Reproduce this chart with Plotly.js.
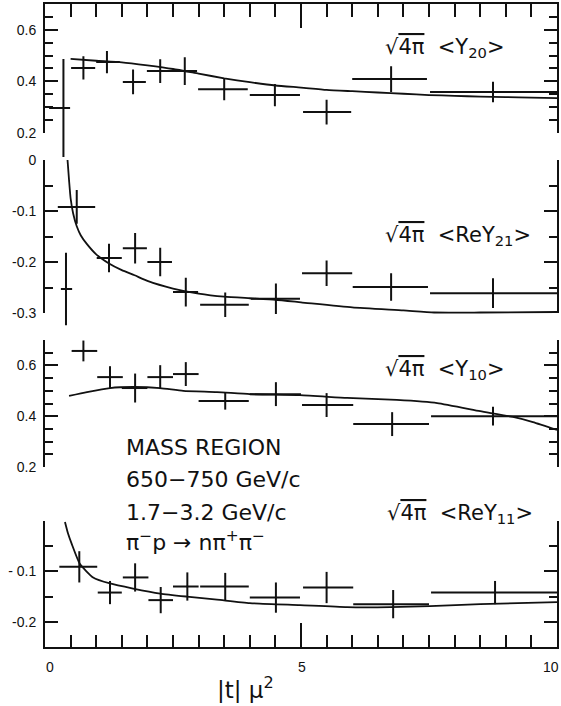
<!DOCTYPE html>
<html>
<head>
<meta charset="utf-8">
<script src="https://cdn.plot.ly/plotly-3.0.1.min.js"></script>
<style>html,body{margin:0;padding:0;background:#fff;}#chart{width:561px;height:706px;}</style>
</head>
<body>
<div id="chart"></div>
<script>
// Panel 1: sqrt(4pi) <Y20>
const y20X   = [0.36, 0.75, 1.21, 1.72, 2.25, 2.73, 3.50, 4.49, 5.50, 6.76, 8.75];
const y20Lo  = [0.08, 0.51, 1.00, 1.52, 1.99, 2.50, 2.99, 4.00, 5.04, 6.00, 7.52];
const y20Hi  = [0.49, 0.98, 1.46, 1.97, 2.50, 2.97, 3.96, 4.98, 5.98, 7.46, 10.0];
const y20Val = [0.297, 0.452, 0.475, 0.398, 0.440, 0.440, 0.370, 0.347, 0.281, 0.409, 0.359];
const y20Err = [0.19, 0.045, 0.043, 0.048, 0.046, 0.054, 0.043, 0.043, 0.048, 0.050, 0.040];
const c20X = [0.5,1.0,1.5,2.0,2.5,3.0,3.5,4.0,4.5,5.0,5.5,6.0,6.5,7.0,7.5,8.0,8.5,9.0,9.5,10];
const c20Y = [0.487,0.480,0.474,0.462,0.448,0.430,0.412,0.397,0.384,0.376,0.367,0.362,0.357,0.352,0.347,0.344,0.341,0.339,0.337,0.335];

// Panel 2: sqrt(4pi) <ReY21>
const y21X   = [0.41, 0.62, 1.25, 1.76, 2.25, 2.75, 3.52, 4.51, 5.50, 6.76, 8.75];
const y21Lo  = [0.31, 0.25, 1.01, 1.52, 2.00, 2.50, 3.03, 4.02, 5.02, 6.01, 7.52];
const y21Hi  = [0.53, 0.98, 1.50, 1.99, 2.48, 2.99, 3.98, 4.98, 6.00, 7.48, 10.0];
const y21Val = [-0.253, -0.092, -0.192, -0.173, -0.200, -0.259, -0.284, -0.272, -0.222, -0.249, -0.261];
const y21Err = [0.071, 0.033, 0.028, 0.030, 0.028, 0.028, 0.024, 0.030, 0.025, 0.027, 0.029];
const c21X = [0.44,0.47,0.50,0.55,0.62,0.70,0.82,1.0,1.25,1.5,1.75,2.0,2.5,3.0,3.5,4.0,4.5,5.0,6.0,7.0,7.6,8.5,10];
const c21Y = [0.0,-0.04,-0.075,-0.105,-0.13,-0.148,-0.165,-0.185,-0.203,-0.216,-0.226,-0.237,-0.252,-0.262,-0.268,-0.271,-0.274,-0.279,-0.289,-0.295,-0.299,-0.299,-0.298];

// Panel 3: sqrt(4pi) <Y10>
const y10X   = [0.75, 1.27, 1.76, 2.25, 2.75, 3.52, 4.51, 5.50, 6.78, 8.75];
const y10Lo  = [0.52, 1.02, 1.50, 2.00, 2.50, 3.00, 4.00, 5.02, 6.02, 7.54];
const y10Hi  = [1.02, 1.52, 2.00, 2.50, 3.00, 3.98, 5.00, 6.02, 7.50, 10.0];
const y10Val = [0.657, 0.554, 0.511, 0.554, 0.566, 0.460, 0.487, 0.444, 0.369, 0.400];
const y10Err = [0.041, 0.043, 0.057, 0.047, 0.047, 0.034, 0.047, 0.047, 0.047, 0.037];
const c10X = [0.47,0.82,1.27,1.72,2.25,2.7,3.36,4.0,4.98,5.9,6.87,7.66,8.5,9.14,9.53,10];
const c10Y = [0.48,0.495,0.511,0.515,0.511,0.5,0.495,0.487,0.483,0.472,0.464,0.452,0.42,0.397,0.377,0.346];

// Panel 4: sqrt(4pi) <ReY11>
const y11X   = [0.67, 1.27, 1.76, 2.26, 2.78, 3.52, 4.51, 5.50, 6.80, 8.79];
const y11Lo  = [0.28, 1.03, 1.52, 2.02, 2.50, 3.03, 4.00, 5.04, 6.02, 7.54];
const y11Hi  = [1.02, 1.50, 2.02, 2.50, 3.00, 3.98, 4.98, 6.02, 7.50, 10.0];
const y11Val = [-0.091, -0.142, -0.112, -0.157, -0.130, -0.130, -0.152, -0.132, -0.165, -0.142];
const y11Err = [0.031, 0.023, 0.028, 0.026, 0.028, 0.027, 0.030, 0.031, 0.028, 0.023];
const c11X = [0.39,0.45,0.52,0.68,0.94,1.27,1.72,2.25,2.77,3.36,4.0,4.98,5.9,6.74,7.52,8.5,10];
const c11Y = [-0.002,-0.025,-0.045,-0.085,-0.112,-0.124,-0.134,-0.144,-0.150,-0.156,-0.163,-0.167,-0.171,-0.171,-0.169,-0.165,-0.161];

// Tick labels
const p1Ticks = [0.2, 0.4, 0.6],        p1Text = ['0.2', '0.4', '0.6'];
const p2Ticks = [0, -0.1, -0.2, -0.3],  p2Text = ['0', '-0.1', '-0.2', '-0.3'];
const p3Ticks = [0.2, 0.4, 0.6, 0.7],   p3Text = ['0.2', '0.4', '0.6', ' '];
const p4Ticks = [0, -0.1, -0.2],        p4Text = [' ', '- 0.1', '-0.2'];
const xTicks = [0, 5, 10], xText = ['0', '5', '10'];

const INK = '#111';

function crosses(xc, lo, hi, val, err, xa, ya) {
  return {
    type: 'scatter', mode: 'markers', x: xc, y: val, xaxis: xa, yaxis: ya,
    marker: {size: 2, color: INK}, cliponaxis: false, showlegend: false, hoverinfo: 'skip',
    error_x: {type: 'data', symmetric: false,
      array: xc.map((v, i) => hi[i] - v), arrayminus: xc.map((v, i) => v - lo[i]),
      width: 0, thickness: 2, color: INK},
    error_y: {type: 'data', array: err, width: 0, thickness: 2, color: INK}
  };
}
function curve(x, y, xa, ya) {
  return {type: 'scatter', mode: 'lines', x: x, y: y, xaxis: xa, yaxis: ya,
    line: {color: INK, width: 1.8, shape: 'spline', smoothing: 0.5}, showlegend: false, hoverinfo: 'skip'};
}

// panel frames (domain, range)
const dom1 = [0.7994, 1],      rng1 = [0.2, 0.7];
const dom2 = [0.5194, 0.7574], rng2 = [-0.3, 0];
const dom3 = [0.2799, 0.4774], rng3 = [0.2, 0.7];
const dom4 = [0, 0.196],       rng4 = [-0.25, 0];

// invisible data axes with the same scale as a panel, extended downwards into the gap
// so that long error bars may run past the bracket as in the original
function extAxis(dom, rng, newLow) {
  const scale = (rng[1] - rng[0]) / (dom[1] - dom[0]);
  return {domain: [newLow, dom[1]], range: [rng[1] - scale * (dom[1] - newLow), rng[1]],
    visible: false, showgrid: false, zeroline: false, fixedrange: true};
}

const data = [
  curve(c20X, c20Y, 'x', 'y5'),  crosses(y20X, y20Lo, y20Hi, y20Val, y20Err, 'x', 'y5'),
  curve(c21X, c21Y, 'x2', 'y6'), crosses(y21X, y21Lo, y21Hi, y21Val, y21Err, 'x2', 'y6'),
  curve(c10X, c10Y, 'x3', 'y3'), crosses(y10X, y10Lo, y10Hi, y10Val, y10Err, 'x3', 'y3'),
  curve(c11X, c11Y, 'x4', 'y4'), crosses(y11X, y11Lo, y11Hi, y11Val, y11Err, 'x4', 'y4'),
  // frame-only subplots (no marks) so the bracket axes of panels 1 and 2 exist
  {type: 'scatter', mode: 'none', x: [], y: [], xaxis: 'x', yaxis: 'y', showlegend: false, hoverinfo: 'skip'},
  {type: 'scatter', mode: 'none', x: [], y: [], xaxis: 'x2', yaxis: 'y2', showlegend: false, hoverinfo: 'skip'}
];

function steps(a, b, d) {
  const out = [];
  const n = Math.round((b - a) / d);
  for (let i = 0; i <= n; i++) out.push(+(a + i * d).toFixed(4));
  return out;
}

const tickFont = {family: 'Liberation Sans, Arial, sans-serif', size: 14, color: INK};
function yax(domain, range, tv, tt) {
  return {domain: domain, range: range, showline: true, linewidth: 2, linecolor: INK,
    mirror: 'ticks', ticks: 'inside', ticklen: 13, tickwidth: 2, tickcolor: INK,
    tickmode: 'array', tickvals: tv, ticktext: tt, tickfont: tickFont, ticklabelstandoff: 4,
    minor: {ticks: 'inside', tickmode: 'array', tickvals: steps(range[0], range[1], 0.05),
      ticklen: 8, tickwidth: 2, tickcolor: INK},
    showgrid: false, zeroline: false, fixedrange: true};
}
const hiddenX = (anchor) => ({anchor: anchor, range: [0, 10], visible: false, showgrid: false, zeroline: false});

const labFont = {family: 'DejaVu Sans, sans-serif', size: 21, color: INK};
const txtFont = {family: 'DejaVu Sans, sans-serif', size: 22, color: INK};
function ann(text, x, y, font) {
  return {text: text, xref: 'paper', yref: 'paper', x: x, y: y, xanchor: 'left', yanchor: 'middle',
    showarrow: false, font: font};
}
const SQ = '√<span style="text-decoration:overline">4π</span>&nbsp; ';
const xLabShift = [5, 1, -6];

const layout = {
  width: 561, height: 706,
  margin: {l: 45, r: 4, t: 4, b: 59},
  paper_bgcolor: '#fff', plot_bgcolor: 'rgba(0,0,0,0)',
  showlegend: false,
  xaxis: {anchor: 'y', side: 'top', range: [0, 10], showline: true, linewidth: 2, linecolor: INK,
    ticks: 'inside', dtick: 5, tick0: 0, ticklen: 24, tickwidth: 2, tickcolor: INK, showticklabels: false,
    minor: {ticks: 'inside', dtick: 0.5, ticklen: 13, tickwidth: 2, tickcolor: INK},
    showgrid: false, zeroline: false, fixedrange: true},
  xaxis2: hiddenX('y2'),
  xaxis3: hiddenX('y3'),
  xaxis4: {anchor: 'y4', side: 'bottom', range: [0, 10], showline: true, linewidth: 2, linecolor: INK,
    ticks: 'inside', tickmode: 'array', tickvals: xTicks, ticklen: 24, tickwidth: 2, tickcolor: INK,
    showticklabels: false,
    minor: {ticks: 'inside', dtick: 0.5, ticklen: 12, tickwidth: 2, tickcolor: INK},
    showgrid: false, zeroline: false, fixedrange: true},
  yaxis:  yax(dom1, rng1, p1Ticks, p1Text),
  yaxis2: yax(dom2, rng2, p2Ticks, p2Text),
  yaxis3: yax(dom3, rng3, p3Ticks, p3Text),
  yaxis4: yax(dom4, rng4, p4Ticks, p4Text),
  yaxis5: extAxis(dom1, rng1, 0.758),
  yaxis6: extAxis(dom2, rng2, 0.488),
  annotations: [
    ann(SQ + '&lt;Y<sub>20</sub>&gt;', 0.660, 0.9316, labFont),
    ann(SQ + '&lt;ReY<sub>21</sub>&gt;', 0.660, 0.639, labFont),
    ann(SQ + '&lt;Y<sub>10</sub>&gt;', 0.660, 0.4308, labFont),
    ann(SQ + '&lt;ReY<sub>11</sub>&gt;', 0.664, 0.2068, labFont),
    ann('MASS REGION', 0.155, (647 - 447) / 643, txtFont),
    ann('650−750 GeV/c', 0.155, (647 - 479) / 643, txtFont),
    ann('1.7−3.2 GeV/c', 0.155, (647 - 512) / 643, txtFont),
    ann('π<sup>−</sup>p → nπ<sup>+</sup>π<sup>−</sup>', 0.155, (647 - 541) / 643, txtFont),
    {text: '|t|&nbsp;μ<sup>2</sup>', xref: 'paper', yref: 'paper', x: (245 - 45) / 512, y: (647 - 688) / 643,
      xanchor: 'center', yanchor: 'middle', showarrow: false, font: {family: 'DejaVu Sans, sans-serif', size: 23, color: INK}}
  ].concat(xTicks.map((v, i) => ({
    text: xText[i], xref: 'x4', yref: 'paper', x: v, y: 0, yshift: -10, xshift: xLabShift[i],
    xanchor: 'center', yanchor: 'top', showarrow: false, font: tickFont
  })))
};

Plotly.newPlot('chart', data, layout, {staticPlot: true, displayModeBar: false});
</script>
</body>
</html>
